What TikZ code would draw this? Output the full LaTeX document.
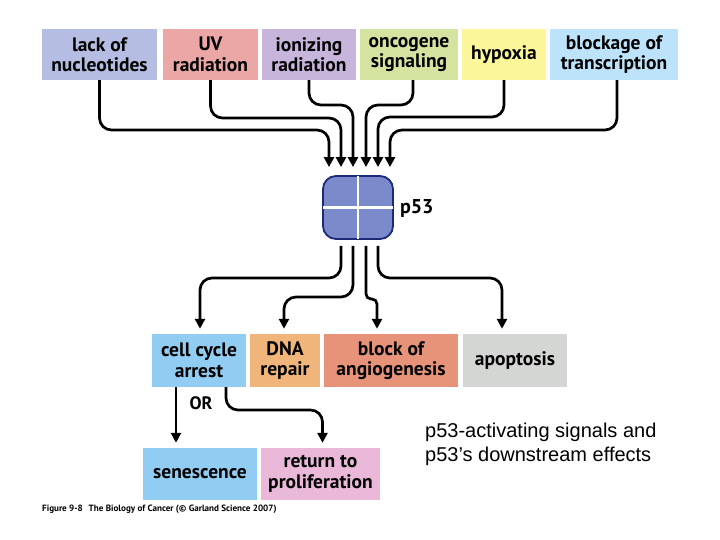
\documentclass[tikz,border=0pt]{standalone}
\usepackage{fontspec}
\setmainfont{PT Sans}
\newfontfamily\arialf{Liberation Sans}
\usetikzlibrary{arrows.meta,calc}
\definecolor{cLack}{HTML}{B5BDE3}
\definecolor{cUV}{HTML}{EBA6A6}
\definecolor{cIon}{HTML}{C7B5DB}
\definecolor{cOnc}{HTML}{D5E3A1}
\definecolor{cHyp}{HTML}{FBF69A}
\definecolor{cBlk}{HTML}{BDE3FA}
\definecolor{cCell}{HTML}{91CDF2}
\definecolor{cDNA}{HTML}{F0B57A}
\definecolor{cAng}{HTML}{E6937A}
\definecolor{cApo}{HTML}{D3D6D3}
\definecolor{cRet}{HTML}{EAB9D9}
\definecolor{cPfill}{HTML}{7A8ACB}
\definecolor{cPdraw}{HTML}{1C2A78}
\begin{document}
\begin{tikzpicture}[x=1pt,y=-1pt,
  lbl/.style={rectangle, inner sep=0pt, align=center,
    font=\fontsize{19.5}{20.5}\selectfont\bfseries},
  arr/.style={line width=2.7pt, rounded corners=12pt,
    -{Triangle[width=10pt,length=10pt]}},
  txt/.style={inner sep=0pt},
]
\useasboundingbox[fill=white] (0,0) rectangle (720,540);

% top row
\node[lbl, fill=cLack, minimum width=115pt, minimum height=51pt] (lack) at (99.5,54.5) {lack of\\nucleotides};
\node[lbl, fill=cUV,   minimum width=95pt,  minimum height=51pt] (uv)   at (210.5,54.5) {UV\\radiation};
\node[lbl, fill=cIon,  minimum width=94pt,  minimum height=51pt] (ion)  at (309,54.5) {ionizing\\radiation};
\node[lbl, fill=cOnc,  minimum width=98pt,  minimum height=51pt] (onc)  at (409,54.5) {oncogene\\signaling};
\node[lbl, fill=cHyp,  minimum width=84pt,  minimum height=51pt] (hyp)  at (504,54.5) {hypoxia};
\node[lbl, fill=cBlk,  minimum width=128pt, minimum height=51pt] (blk)  at (614,54.5) {blockage of\\transcription};

% p53
\node[rectangle, rounded corners=13pt, fill=cPfill, draw=cPdraw, line width=1.8pt,
      minimum width=70pt, minimum height=63pt, inner sep=0pt] (p53) at (358,207.5) {};
\draw[white, line width=2.4pt] ([yshift=-1.2pt]p53.north) -- ([yshift=1.2pt]p53.south);
\draw[white, line width=2.4pt] ([xshift=1.2pt]p53.west) -- ([xshift=-1.2pt]p53.east);
\node[txt, anchor=west, font=\fontsize{20}{22}\selectfont\bfseries] (p53lbl) at ([xshift=6pt,yshift=-1pt]p53.east) {p53};

% arrow tips above p53
\coordinate (t1) at ($(p53.north)+(-29,-8)$);
\coordinate (t2) at ($(p53.north)+(-17,-8)$);
\coordinate (t3) at ($(p53.north)+(-5,-8)$);
\coordinate (t4) at ($(p53.north)+(8,-8)$);
\coordinate (t5) at ($(p53.north)+(20,-8)$);
\coordinate (t6) at ($(p53.north)+(32,-8)$);
\coordinate (h130) at (0,130);
\coordinate (h118) at (0,118);
\coordinate (h105) at (0,105);
\coordinate (h117) at (0,117);

\draw[arr] (lack.south) |- (h130 -| t1) -- (t1);
\draw[arr] (uv.south)   |- (h118 -| t2) -- (t2);
\draw[arr] (ion.south)  |- (h105 -| t3) -- (t3);
\draw[arr] ([xshift=4pt]onc.south) |- (h105 -| t4) -- (t4);
\draw[arr] (hyp.south)  |- (h117 -| t5) -- (t5);
\draw[arr] ([xshift=3pt]blk.south) |- (h130 -| t6) -- (t6);

% bottom row
\node[lbl, fill=cCell, minimum width=94pt,  minimum height=53pt] (cell) at (199,360.5) {cell cycle\\arrest};
\node[lbl, fill=cDNA,  minimum width=70pt,  minimum height=53pt] (dna)  at (285,360.5) {DNA\\repair};
\node[lbl, fill=cAng,  minimum width=134pt, minimum height=53pt] (ang)  at (391,360.5) {block of\\angiogenesis};
\node[lbl, fill=cApo,  minimum width=104pt, minimum height=53pt] (apo)  at (515,360.5) {apoptosis};

\coordinate (s1) at ($(p53.south)+(-17,6)$);
\coordinate (s2) at ($(p53.south)+(-5,6)$);
\coordinate (s3) at ($(p53.south)+(8,6)$);
\coordinate (s4) at ($(p53.south)+(20,6)$);
\coordinate (e1) at ($(cell.north)+(1,-5)$);
\coordinate (e2) at ($(dna.north)+(-1,-5)$);
\coordinate (e3) at ($(ang.north)+(-14,-5)$);
\coordinate (e4) at ($(apo.north)+(-13,-5)$);
\coordinate (h278) at (0,278);
\coordinate (h297) at (0,297);
\coordinate (h299) at (0,299);

\draw[arr] (s1) |- (h278 -| e1) -- (e1);
\draw[arr] (s2) |- (h297 -| e2) -- (e2);
\draw[arr, rounded corners=5pt] (s3) |- (h299 -| e3) -- (e3);
\draw[arr] (s4) |- (h278 -| e4) -- (e4);

% third row
\node[lbl, fill=cCell, minimum width=114pt, minimum height=52pt] (sen) at (200,474) {senescence};
\node[lbl, fill=cRet,  minimum width=119pt, minimum height=52pt] (ret) at (320.5,474) {return to\\proliferation};

\coordinate (c1) at ($(cell.south)+(-23,0)$);
\coordinate (c2) at ($(cell.south)+(27,0)$);
\coordinate (f1) at ($(sen.north)+(-24,-5)$);
\coordinate (f2) at ($(ret.north)+(2,-5)$);
\coordinate (h410) at (0,410);
\draw[arr] (c1) -- (f1);
\draw[arr] (c2) |- (h410 -| f2) -- (f2);

\node[txt, font=\fontsize{18}{20}\selectfont\bfseries] (or) at (201,403) {OR};

% caption
\node[txt, anchor=west, font=\fontsize{9.1}{10.5}\selectfont\bfseries] (cap) at (42,509)
  {Figure 9-8\hspace{0.4em} The Biology of Cancer (© Garland Science 2007)};

% side text
\node[txt, anchor=north west, align=left, font=\arialf\fontsize{20}{24}\selectfont] (side) at (425,422.5)
  {p53-activating signals and\\p53’s downstream effects};
\end{tikzpicture}
\end{document}
